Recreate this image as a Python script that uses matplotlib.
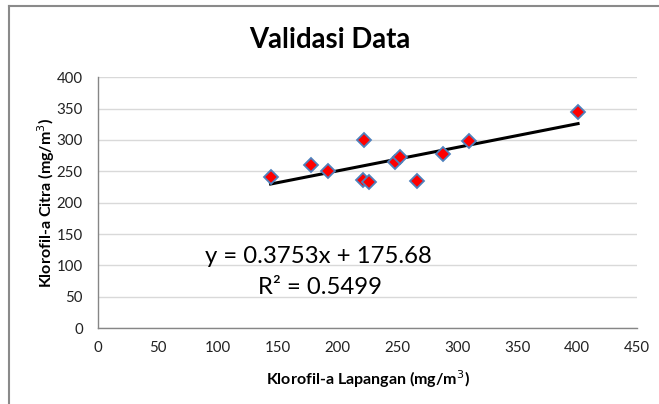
import numpy as np
import matplotlib
matplotlib.use("Agg")
import matplotlib.pyplot as plt
from matplotlib.lines import Line2D

plt.rcParams['font.family'] = ['Lato', 'DejaVu Sans']

# data
lapangan = [144.0, 177.4, 192.1, 220.8, 221.9, 226.3, 247.8, 251.9, 265.9, 288.1, 309.8, 400.8]
citra = [241.3, 259.5, 249.9, 236.5, 299.8, 233.3, 264.3, 272.2, 234.9, 277.2, 298.2, 345.0]
slope = 0.3753
intercept = 175.68
r2 = 0.5499
xticks = np.arange(0, 451, 50)
yticks = np.arange(0, 401, 50)

fig = plt.figure(figsize=(6.59, 4.04), dpi=100)
ax = fig.add_axes([0.149, 0.188, 0.8176, 0.6207])

# gridlines
for yt in yticks:
    ax.axhline(yt, color='#d9d9d9', lw=1.0, zorder=0)

# trend line over data range
xs = np.array([min(lapangan), max(lapangan)])
ax.plot(xs, slope * xs + intercept, color='black', lw=2.2, zorder=2)

ax.plot(lapangan, citra, linestyle='none', marker='D', ms=6.8,
        mfc='#ff0000', mec='#4f81bd', mew=1.3, zorder=3)

ax.set_xlim(0, 450)
ax.set_ylim(0, 400)
ax.set_xticks(xticks)
ax.set_yticks(yticks)
ax.tick_params(length=0, labelsize=10.8, colors='#222222')
ax.tick_params(axis='y', pad=11)
ax.tick_params(axis='x', pad=9)
for s in ['top', 'right']:
    ax.spines[s].set_visible(False)
for s in ['left', 'bottom']:
    ax.spines[s].set_color('#868686')
    ax.spines[s].set_linewidth(1.0)

ax.set_xlabel('Klorofil-a Lapangan (mg/m$^3$)', fontsize=11.5, fontweight='bold', labelpad=10)
ax.set_ylabel('Klorofil-a Citra (mg/m$^3$)', fontsize=11.5, fontweight='bold', labelpad=0)

fig.text(0.5, 0.902, 'Validasi Data', ha='center', va='center', fontsize=19.8, fontweight='bold')

ax.text(0.408, 0.287, 'y = %.4fx + %.2f' % (slope, intercept), transform=ax.transAxes,
        ha='center', va='center', fontsize=17.2)
ax.text(0.412, 0.1635, 'R² = %.4f' % r2, transform=ax.transAxes,
        ha='center', va='center', fontsize=17.2)

# outer chart border (top and left visible)
fig.add_artist(Line2D([9 / 659, 1], [1 - 6 / 404, 1 - 6 / 404], transform=fig.transFigure, color='#8a8a8a', lw=1.5))
fig.add_artist(Line2D([9 / 659, 9 / 659], [0, 1 - 6 / 404], transform=fig.transFigure, color='#8a8a8a', lw=1.5))

fig.savefig('out.png', dpi=100)
